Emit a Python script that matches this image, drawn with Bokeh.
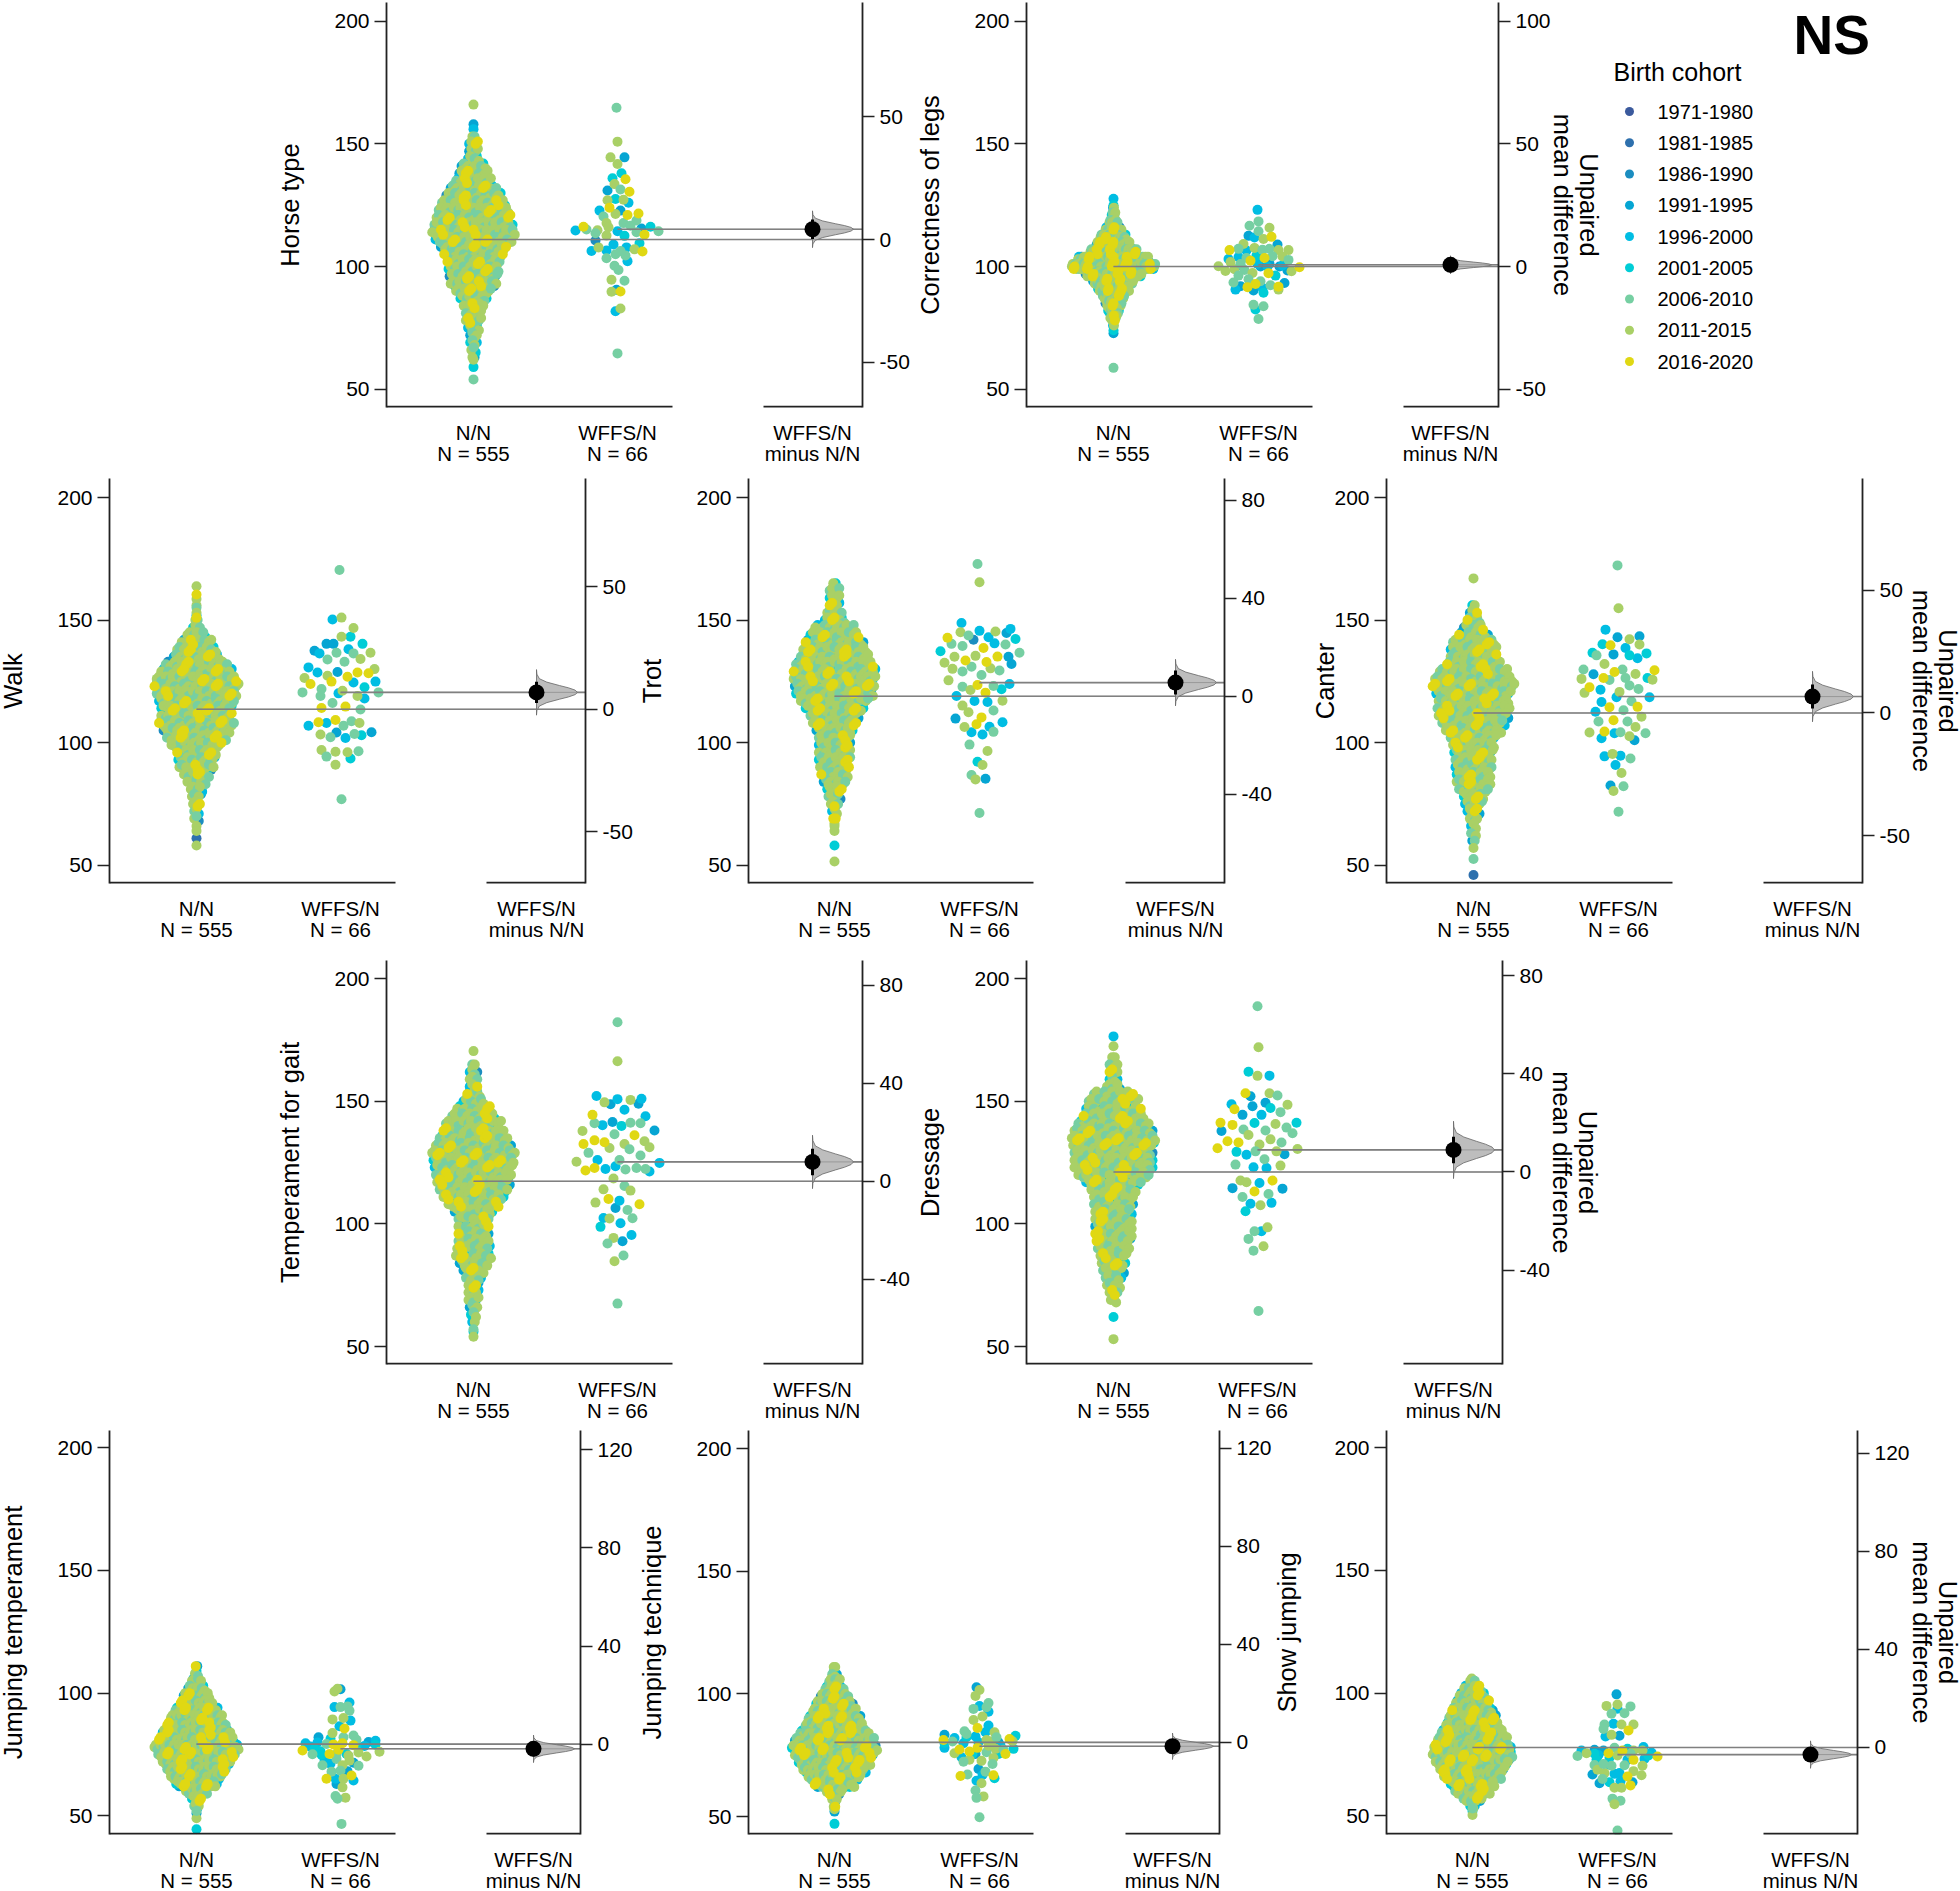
from bokeh.plotting import figure
from bokeh.models import Range1d, LinearAxis, FixedTicker
from bokeh.layouts import row, column
from bokeh.core.properties import value
from bokeh.embed import file_html
from bokeh.resources import INLINE

COHORTS = ["1971-1980","1981-1985","1986-1990","1991-1995","1996-2000","2001-2005","2006-2010","2011-2015","2016-2020"]
COLORS = ["#3b5a9d","#2e70ad","#1b8dc0","#06a5d3","#00bde3","#00cdd6","#76cfa2","#a9d066","#e0d813"]
COHORT_MIX = [7,6,4,7,7,8,8,3,7,5,6,7,4,7,7,6,5,7,3,6,7,7,5,6,7,4,7,6,5,7,3,7,7,8,8,6,7,4,7,6,2,7,7]
STAGGER = [0.0,1.0,-1.0]

TRAITS = ["Horse type","Correctness of legs","Walk","Trot","Canter","Temperament for gait","Dressage","Jumping temperament","Jumping technique","Show jumping"]
NN_MEAN = [111.0,100.0,113.6,118.9,112.1,117.4,121.2,79.2,80.25,77.85]
DIFF = [4.2,0.7,6.9,5.6,6.7,7.9,9.0,-1.9,-1.6,-2.9]
BOOT_HALF = [7.5,3.7,9.3,9.5,10.3,10.9,11.7,5.6,5.4,5.6]
CI_HALF = [4.0,3.0,4.3,4.9,4.9,5.4,5.4,3.0,3.0,3.0]
R_TICKS = [[-50,0,50],[-50,0,50,100],[-50,0,50],[-40,0,40,80],[-50,0,50],[-40,0,40,80],[-40,0,40,80],[0,40,80,120],[0,40,80,120],[0,40,80,120]]
L_TICKS = [50,100,150,200]
VIOLIN_T = [-1,-.8,-.6,-.45,-.3,-.2,-.1,0,.1,.2,.3,.45,.6,.8,1]
VIOLIN_W = [0,.01,.07,.25,.56,.78,.94,1,.94,.78,.56,.25,.07,.01,0]

# N/N: bin centres fall every 3 units going down from NN_TOP; counts per bin
NN_TOP = [153,124,150,165,156,165,168,111,111,105]
NN_COUNT = [
 [2,5,5,6,12,14,17,22,26,30,33,35,37,39,36,31,28,25,24,23,22,17,13,10,8,8,6,4,4,3,2],
 [2,5,10,19,30,39,53,81,95,64,47,36,25,19,13,8,2],
 [2,4,9,14,18,21,28,32,36,38,36,34,32,32,34,30,27,23,18,17,16,12,9,6,5,4,3,3,1],
 [2,5,5,5,7,9,17,21,25,27,29,33,35,35,34,33,29,25,21,19,16,14,14,14,14,13,12,10,7,6,4,3,2],
 [2,4,6,9,13,18,20,20,23,29,33,35,32,30,31,30,27,24,20,18,17,16,16,15,15,13,9,8,6,4,3,3,2,1],
 [2,4,4,4,6,9,14,18,23,25,28,31,34,33,32,31,30,28,25,21,16,13,13,13,13,14,15,12,9,7,5,5,5,4,3,2,1],
 [2,4,4,4,6,16,20,22,24,28,31,33,32,31,31,31,28,22,18,16,16,15,15,15,15,14,13,11,10,9,7,6,4,3],
 [2,3,7,12,18,22,29,35,40,46,51,57,52,46,40,35,28,15,7,4],
 [2,4,8,13,19,25,29,35,39,46,53,57,53,48,42,35,27,11,4,2],
 [4,12,18,23,28,32,36,42,47,52,54,50,44,39,30,24,13,4],
]
NN_STEP = [2.17,0.885,2.27,2.4,2.4,2.5,2.6,1.5,1.52,1.5]
NN_TAIL = [
 [(166,7),(156,4),(158,3),(65,4),(62,7),(59,5),(54,6),(68,3)],
 [(127.6,4),(125,5),(74,5),(72.8,3),(58.7,6)],
 [(163.8,7),(160.4,8),(158.6,7),(156,7),(155,6),(153,7),(152,4),(151,8),(61,1),(58,7),(64,7)],
 [(51.5,7),(58,5),(64,7),(66,7),(67,7),(74,8)],
 [(167,7),(46,1),(52.5,6)],
 [(170.5,7),(56,5),(54,7)],
 [(176.5,4),(172.5,7),(62,5),(53,7)],
 [(44.5,5),(49,7),(51,3),(52,6)],
 [(47,5),(52,3),(53,7)],
 [(50.3,7),(52,5),(53,6)],
]

# WFFS/N: (value, swarm offset, cohort)
WF_1 = [(164.7,-1,6),(150.9,0,7),(144.5,-7,7),(144.5,7,3),(141.8,0,7),(138,4,5),(136,-5,5),(135.6,8,8),(133.6,-3,7),(131,-10,3),(131.4,3,6),(130.5,12,8),(127.5,-2,5),(127,-10,7),(127.2,6,7),(126,11,4),(124,-8,8),(122.8,3,3),(122.8,-18,4),(121.4,-2,7),(121,10,8),(121.6,21,8),(120.4,-14,6),(117.7,6,6),(118.8,19,6),(117.7,-11,7),(116.6,13,6),(116.2,33,5),(116.2,-34,8),(116,-9,7),(115.1,-31,6),(114.7,-42,4),(114.8,-20,7),(115.5,24,3),(114.4,41,6),(114.4,0,4),(113.6,-22,6),(114,19,6),(112.6,-11,7),(112.5,7,5),(113,27,8),(110.6,-22,2),(109.5,22,5),(109,-4,4),(107.8,9,4),(107.8,-19,7),(106.3,-26,4),(106.5,-11,4),(106.3,3,6),(107,17,7),(106.1,25,8),(105,-2,6),(104.5,8,6),(103.4,-11,6),(102.2,10,4),(100.3,-3,6),(98.6,1,6),(94.6,-6,7),(94.2,7,6),(90.5,-1,3),(89.7,-6,7),(89.8,3,8),(81.8,-2,4),(82.9,3,7),(64.6,0,6)]
WF_2 = [(123.1,-1,4),(118.4,0,6),(116.6,-9,6),(115.8,11,7),(114.4,0,6),(112.5,-10,3),(111.8,-4,4),(111.2,5,7),(112.1,13,8),(109,19,3),(109.2,-15,7),(107.2,-20,6),(107.6,-4,7),(106.7,-29,8),(106.5,-12,4),(106.8,4,6),(107.2,11,6),(106.7,20,7),(106.7,30,7),(104.5,-2,5),(103.9,-20,4),(104.2,14,6),(104.1,24,7),(103.1,-30,4),(103.5,6,8),(103.5,-12,6),(102.7,30,6),(102.4,-8,8),(101.8,-28,7),(100.4,-18,4),(100.1,-40,7),(100,2,3),(100,21,3),(99.7,41,8),(98.9,-24,7),(98.2,-33,7),(98.6,-14,6),(97.4,-6,7),(97.3,10,8),(98.4,29,3),(98.1,33,7),(96.3,17,5),(96.3,-20,6),(94.8,-10,6),(94,2,6),(93.5,-25,6),(93.3,26,3),(92.9,-3,8),(92,-18,3),(91.6,-11,8),(92.4,12,6),(91.8,20,8),(90.6,-23,4),(90.2,-5,3),(91.3,4,4),(89.3,5,5),(90.6,20,7),(84.4,-5,6),(83.8,5,6),(82.5,-3,5),(78.6,0,6),(101.1,11,3),(101.1,-1,4),(100.4,24,4),(100,9,4),(101,-18,6)]
WF_3 = [(170.4,-1,6),(151,1,7),(150.2,-8,4),(146.8,13,7),(143.2,1,7),(143.2,10,5),(140.3,-14,3),(140.3,-7,3),(140.3,22,5),(138.1,8,4),(137.5,-26,3),(136.4,-21,4),(136.7,-4,6),(136.4,13,6),(136.7,30,7),(133.9,-13,6),(133,4,6),(134.1,20,7),(130.7,-32,4),(130,34,7),(128.6,-23,4),(128.8,-3,3),(128.6,17,8),(128.3,28,8),(127.3,-13,7),(126.9,7,8),(126.4,-36,7),(123.9,-30,8),(124.9,-9,8),(124.5,13,4),(124.9,35,4),(122.6,24,5),(121.9,-19,6),(120.5,-38,6),(120.1,-2,4),(121.2,2,7),(120.5,38,6),(119,-20,6),(119,17,7),(118,24,4),(116.2,-8,6),(114.1,-19,8),(114.7,5,8),(113.5,20,6),(109.2,-5,8),(108.3,-22,8),(108,-14,4),(108.7,11,6),(108,19,7),(106.9,-32,4),(106.9,3,6),(104.1,-4,3),(104.2,31,3),(103.3,-20,7),(103.5,14,6),(103,21,5),(102.2,-10,6),(101.9,5,4),(97,-19,7),(96.3,-5,7),(96.1,7,7),(96.5,18,6),(94.3,-14,6),(93.5,10,5),(91,-5,7),(76.9,1,6)]
WF_4 = [(172.9,-2,6),(165.4,0,7),(148.8,-18,4),(145.6,0,4),(145.3,16,7),(146.4,31,4),(144.7,27,3),(145,-19,7),(143.7,-11,6),(142.8,-32,8),(143,9,4),(142.3,36,5),(142,-6,2),(140.5,15,4),(140.3,-28,6),(139.4,-17,6),(140,26,6),(138.6,4,8),(137.3,-39,5),(136.7,40,6),(135.4,-4,7),(135,-25,7),(135.1,18,8),(135,29,3),(133.5,-14,8),(132.9,7,8),(132.6,-35,7),(132.1,32,3),(131,-8,6),(130.1,-27,7),(130.3,11,7),(129.4,20,6),(129,-17,6),(127.6,2,6),(125.4,-31,7),(123.9,30,4),(123.5,-2,8),(123.1,14,6),(122.8,-17,6),(121.5,-9,7),(121.8,22,5),(120.4,6,8),(119,-23,4),(117,-5,4),(116.6,8,4),(117.1,23,7),(115.1,-17,7),(113.1,14,6),(112.4,-11,7),(110.3,2,8),(109.8,-24,3),(108.3,23,4),(107.5,-3,8),(106.5,10,4),(106.4,-15,7),(104.2,-8,4),(103.3,3,4),(104.4,14,6),(99.2,-10,6),(96.6,8,7),(92.2,-2,5),(90.9,3,7),(86.8,-8,6),(85,-4,7),(85.3,6,3),(71.3,0,6)]
WF_5 = [(172.3,-1,6),(154.8,0,7),(146.1,-13,4),(143.4,21,3),(143,-1,3),(142.2,11,7),(140.1,-16,5),(139.7,-8,8),(140,21,7),(138.6,7,4),(136.7,-26,5),(136,-5,3),(135.6,-22,6),(136.4,28,5),(135.6,11,5),(134.4,19,4),(132.1,-14,7),(129.8,-35,6),(129.8,4,6),(129.5,36,8),(128.8,-4,8),(127.9,-25,3),(128,17,7),(126,-37,7),(126.4,-15,8),(126.4,7,6),(126.4,29,5),(125.7,34,7),(125.6,-9,6),(123.3,11,6),(122.6,-29,8),(121.6,-18,4),(121.9,20,6),(120.7,1,7),(120.3,-34,7),(118.5,-2,4),(118.5,31,4),(116.9,13,6),(116.6,-17,4),(114.4,-9,8),(114.6,19,8),(112.6,-23,4),(113.2,5,6),(110.6,23,7),(109.1,-5,8),(108.6,-20,6),(108.6,9,6),(106.4,17,7),(104.1,-29,7),(104.5,-14,8),(103.8,-4,4),(104.2,2,6),(103.8,27,6),(102.6,11,7),(101.8,-17,4),(101,16,3),(95.4,-6,7),(94.4,-14,4),(94.7,2,4),(93.5,12,6),(90.9,-3,4),(87.6,3,7),(82.5,-8,3),(82.2,5,6),(80.3,-5,7),(71.8,0,6)]
WF_6 = [(182.3,0,6),(166.4,0,7),(152.2,-21,4),(150.9,0,4),(150.6,13,7),(151.1,24,4),(149.6,-13,7),(148.8,-7,3),(149,21,3),(146.6,7,4),(144.5,-25,8),(143.9,28,4),(141.6,-5,3),(141.1,-23,6),(140.3,-15,4),(140,4,5),(141.3,13,6),(141.1,23,6),(138.1,37,3),(137.9,-35,7),(136.6,-3,6),(136.2,17,8),(134.1,-23,8),(133.3,-13,8),(132.6,-34,8),(132.6,7,7),(133.7,27,7),(131.3,32,7),(131,-8,7),(130.5,12,6),(129,-29,6),(127.9,23,6),(126.1,-20,4),(126.1,2,6),(125.4,-41,7),(124.9,42,4),(123.5,-2,4),(122.4,-12,4),(122.8,-23,8),(122.8,19,6),(121.8,-32,8),(122.2,8,6),(122.4,28,6),(121.4,32,4),(118.5,-4,7),(115.5,7,6),(114.1,-14,7),(113.6,13,7),(110.2,-9,8),(109.5,2,4),(108.7,-22,7),(108,22,8),(106.5,-2,3),(105.7,10,6),(102.4,-14,4),(102.2,-8,7),(102.3,15,6),(100.3,3,4),(98.8,-17,5),(95.5,14,4),(94.3,-4,7),(92.9,5,3),(92,-10,6),(87.1,6,6),(84.8,-3,7),(67.5,0,6)]
WF_7 = [(188.8,0,6),(172.1,1,7),(162.1,-9,5),(160.5,12,4),(160.4,0,7),(153.3,-12,8),(153.3,12,7),(152.4,20,6),(152.1,-7,3),(149.4,8,3),(148.8,-26,4),(148.6,30,7),(148,-5,3),(147.3,13,5),(146.8,-23,8),(145.6,23,6),(144.5,-15,3),(144.5,4,4),(141.2,-3,5),(141.3,-37,8),(141.3,39,5),(140.4,-25,8),(140.8,18,7),(139.3,29,6),(138.5,-14,6),(137.9,-36,3),(138.1,8,6),(137,35,6),(136.3,-9,7),(134.5,13,7),(133.7,-30,8),(133.2,-19,8),(133.2,24,6),(132.4,2,7),(130.9,-40,8),(130.6,40,7),(129.4,-21,5),(129.6,-2,6),(129.6,19,7),(128.4,27,3),(128.2,-11,4),(126.4,7,6),(124.2,-22,6),(123.8,23,7),(123.1,-4,4),(122.8,9,4),(117.7,-17,7),(117,-11,7),(116.7,2,4),(117.7,15,8),(114.6,-25,3),(114.4,25,3),(113.2,-3,8),(112.2,11,6),(111,-15,6),(108.2,-7,4),(108.6,14,4),(107.6,3,7),(105.2,-12,5),(98.6,10,7),(97,-3,6),(97,4,4),(93.9,-9,6),(90.9,6,7),(89.1,-4,6),(64.5,1,6)]
WF_8 = [(46.7,1,6),(101.6,0,3),(101.8,-3,7),(100.7,-6,7),(96.2,9,4),(94.3,-6,4),(94.3,0,6),(94.6,7,6),(92.8,9,6),(88.8,10,4),(89.9,3,7),(89.3,-8,7),(86.5,-1,4),(85.6,4,8),(83.7,-8,7),(82,-22,3),(82.7,13,6),(82,3,6),(81.4,-10,5),(81,16,6),(80.6,35,4),(80.1,28,3),(79.9,-23,4),(79.6,-35,4),(79.3,-14,6),(79.1,-7,8),(79.6,2,8),(78.8,13,8),(78.2,-30,4),(79,35,5),(78.5,24,4),(76.6,-38,8),(76.1,39,7),(76.3,-20,5),(75.1,-28,6),(75.2,-11,8),(76.9,-2,8),(75.8,18,7),(74.6,8,7),(74.2,26,7),(74.9,-19,5),(72.8,-16,4),(73.2,-4,6),(72.5,9,7),(71.6,13,3),(71.2,-10,4),(70.6,-18,6),(70.4,18,6),(70.6,2,7),(68.2,7,3),(68,-9,6),(68.4,0,6),(65.1,-14,8),(65.1,-5,4),(64.4,13,4),(66.4,11,8),(65.1,3,7),(63,-4,3),(61.6,2,7),(58.1,-5,6),(57.4,5,7),(57,-3,6),(75.2,6,5),(75.2,-4,6),(78.6,16,5),(77.2,-26,5)]
WF_9 = [(102.7,-3,3),(101.6,0,7),(99.2,-4,7),(96.3,9,6),(95.1,0,4),(93.9,-6,6),(94.6,7,6),(92.7,9,4),(90.8,3,7),(89.4,-6,7),(87.1,9,4),(86.1,-2,8),(84.4,6,4),(84.8,-15,6),(84.4,15,7),(83.7,-13,6),(82.6,-4,4),(83.3,-35,3),(82.9,36,5),(82,-25,4),(81.2,-36,8),(81.6,30,8),(80.6,-27,6),(81.2,7,7),(80.7,12,7),(80.3,19,3),(79.9,-16,4),(80.7,33,7),(78.9,21,4),(78,-35,4),(78,-2,8),(77.6,34,5),(77.3,-20,8),(77.6,16,7),(77.2,24,6),(75.8,-25,7),(76.5,-10,8),(75.5,26,8),(75.5,-4,3),(76.2,7,6),(74.2,-18,4),(73.9,14,7),(73.2,-10,7),(72.7,2,7),(72.3,-16,6),(71.4,13,6),(69.4,-1,3),(68.3,6,6),(67.1,-12,6),(66.5,-19,8),(66.8,14,8),(66.9,3,4),(65.6,15,5),(64.6,-3,4),(63.6,2,7),(60.6,-4,6),(58.2,4,7),(57.6,-3,6),(49.7,0,6),(82.3,-13,5),(80.3,-1,4),(82.3,17,6),(80,-35,5),(75.5,-7,5),(78.9,9,7),(75.5,19,5)]
WF_10 = [(44,0,6),(99.5,-1,3),(94.8,-11,7),(95.4,0,7),(94.6,13,6),(93.6,0,4),(91.6,-6,6),(91.8,7,6),(87.5,-4,4),(87.2,-13,6),(87.2,16,7),(87.2,4,7),(85.4,-14,6),(84.8,11,8),(83,-6,7),(82.3,-12,4),(82.6,2,3),(77.7,-3,6),(78,26,4),(76.6,-36,4),(76.9,-23,3),(76.6,-14,3),(76.6,16,7),(76.6,25,7),(76.6,5,8),(75.5,-31,7),(75.5,-9,8),(75.8,34,4),(74.4,-40,6),(74.8,-19,4),(74.6,0,7),(74.2,40,8),(75.3,13,6),(72.8,16,8),(73.2,27,4),(72.8,-21,5),(71.1,-10,4),(70.7,-23,6),(70.4,-6,6),(70.6,7,6),(70.4,25,7),(68.8,-20,7),(68.2,16,7),(67.1,-3,4),(66.8,-25,3),(67.4,2,4),(67.4,-13,7),(66.5,24,7),(66,10,8),(65,-15,6),(63.7,-8,5),(63.3,-18,3),(64.1,3,4),(63.7,15,3),(61.4,-3,7),(61.4,4,7),(62.4,13,8),(57,-5,6),(56.1,3,6),(54.7,-3,7),(77.3,10,5),(75.3,-23,5),(74.6,31,5),(73.7,-8,5),(72.8,10,4),(71.1,-14,6)]
WF = [WF_1,WF_2,WF_3,WF_4,WF_5,WF_6,WF_7,WF_8,WF_9,WF_10]

FONT = "Liberation Sans"
INK = "#222222"
ORIGIN = -8

# layout: (fy0,fy1, left,right,top,bottom, y200,y50, nn,wf,dp, seg1,seg2, left standoff, right standoff or None)
L = [
 (ORIGIN,470, 386,862,2,407, 20.7,388.7, 473,617,812, 672,763, 27,None),
 (ORIGIN,470, 1026,1498,2,407, 20.7,388.7, 1113,1258,1450, 1312,1403, 27,-5),
 (470,950, 109,585,478,883, 497,864.7, 196,340,536, 395,486, 27,None),
 (470,950, 748,1224,478,883, 497,864.7, 834,979,1175, 1033,1125, 27,None),
 (470,950, 1386,1862,478,883, 497,864.7, 1473,1618,1812, 1672,1763, -8,-5),
 (950,1426, 386,862,960,1364, 978.3,1346, 473,617,812, 672,763, 27,None),
 (950,1426, 1026,1502,960,1364, 978.3,1346, 1113,1257,1453, 1312,1403, 27,-5),
 (1426,1895, 109,580,1430,1834, 1447.3,1815.3, 196,340,533, 395,486, 27,None),
 (1426,1895, 748,1219,1430,1834, 1448.3,1816, 834,979,1172, 1033,1125, 27,None),
 (1426,1895, 1386,1857,1430,1834, 1447.3,1815.3, 1472,1617,1810, 1672,1763, 30,-5),
]
LEFT_BORDER = 125
RIGHT_BORDER = 60
RIGHT_BORDER_LABEL = 112

def style_y(ax):
    ax.axis_line_color = INK; ax.axis_line_width = 1.8
    ax.major_tick_line_color = INK; ax.major_tick_line_width = 1.6
    ax.major_tick_out = 12; ax.major_tick_in = 0
    ax.minor_tick_line_color = None
    ax.major_label_text_font = FONT; ax.major_label_text_font_size = "21px"
    ax.major_label_text_color = "black"; ax.major_label_standoff = 5
    ax.axis_label_text_font = FONT; ax.axis_label_text_font_size = "25.5px"
    ax.axis_label_text_font_style = "normal"; ax.axis_label_text_color = "black"
    ax.axis_label_text_line_height = 0.95

def panel(i):
    fy0,fy1,left,right,top,bottom,y200,y50,nn,wf,dp,seg1,seg2,lst,rst = L[i]
    k = (y50-y200)/150
    y0 = 50-(bottom-y50)/k; y1 = 200+(y200-top)/k
    pw, ph = wf-nn, dp-nn
    rb = RIGHT_BORDER if rst is None else RIGHT_BORDER_LABEL
    p = figure(width=LEFT_BORDER+right-left+rb, height=fy1-fy0, output_backend="svg", toolbar_location=None,
               x_range=Range1d(left-nn, right-nn), y_range=Range1d(y0,y1),
               min_border_left=LEFT_BORDER, min_border_right=rb,
               min_border_top=top-fy0, min_border_bottom=fy1-bottom,
               outline_line_color=None, background_fill_color=None, border_fill_color=None)
    p.grid.visible = False

    ya = p.yaxis[0]; ya.ticker = FixedTicker(ticks=L_TICKS); style_y(ya)
    ya.axis_label = TRAITS[i]; ya.axis_label_standoff = lst

    m = NN_MEAN[i]
    p.extra_y_ranges = {"d": Range1d(y0-m, y1-m)}
    ra = LinearAxis(y_range_name="d", ticker=FixedTicker(ticks=R_TICKS[i]))
    ra.major_label_overrides = {t: str(t) for t in R_TICKS[i]}
    style_y(ra)
    if rst is not None:
        ra.axis_label = "Unpaired\nmean difference"; ra.axis_label_standoff = rst
    p.add_layout(ra, "right")

    xa = p.xaxis[0]
    xa.ticker = FixedTicker(ticks=[0,pw,ph])
    xa.major_label_overrides = {0:"N/N\nN = 555", pw:"WFFS/N\nN = 66", ph:"WFFS/N\nminus N/N"}
    xa.axis_line_color = None; xa.major_tick_line_color = None; xa.minor_tick_line_color = None
    xa.major_tick_out = 0; xa.major_tick_in = 0
    xa.major_label_text_font = FONT; xa.major_label_text_font_size = "20.5px"
    xa.major_label_text_color = "black"; xa.major_label_standoff = 13
    xa.major_label_text_line_height = 0.92

    xs,ys,cs = [],[],[]
    g = i*7
    for b,n in enumerate(NN_COUNT[i]):
        v = NN_TOP[i]-3*b
        for j in range(n):
            xs.append((j-(n-1)/2)*NN_STEP[i])
            ys.append(v+(STAGGER[j%3] if n>2 else 0))
            cs.append(COHORT_MIX[g%len(COHORT_MIX)]); g+=1
    for v,c in NN_TAIL[i]:
        xs.append(0); ys.append(v); cs.append(c)
    for v,o,c in WF[i]:
        xs.append(pw+o); ys.append(v); cs.append(c)
    # older cohorts lie underneath, the youngest on top; the two green cohorts interleave
    order = sorted(range(len(xs)), key=lambda a: min(cs[a],6) if cs[a]<8 else 8)
    p.scatter([xs[a] for a in order],[ys[a] for a in order],size=10,
              color=[COLORS[cs[a]] for a in order],line_color=None,marker="circle")

    p.segment([left-nn,seg2-nn],[y0,y0],[seg1-nn,right-nn],[y0,y0],line_color=INK,line_width=3.6)

    d = DIFF[i]
    p.segment([0,pw],[m,m+d],[right-nn,right-nn],[m,m+d],line_color="#808080",line_width=1.6)

    vx = [ph+w*41 for w in VIOLIN_W]
    vy = [m+d+t*BOOT_HALF[i] for t in VIOLIN_T]
    p.patch(vx,vy,fill_color="#bdbdbd",line_color="#666666",line_width=0.8)
    p.segment([0,pw],[m,m+d],[right-nn,right-nn],[m,m+d],line_color="#808080",line_width=1.0,line_alpha=0.6)
    p.segment([ph],[m+d-CI_HALF[i]],[ph],[m+d+CI_HALF[i]],line_color="black",line_width=3)
    p.scatter([ph],[m+d],size=16,color="black",line_color=None,marker="circle")
    return p

LEGEND_X0 = 1610
def legend():
    rows = list(range(len(COHORTS)))
    p = figure(width=350,height=478,output_backend="svg",toolbar_location=None,
               x_range=Range1d(0,350),y_range=Range1d(9.472,-3.488),
               min_border_left=0,min_border_right=0,min_border_top=10,min_border_bottom=63,
               outline_line_color=None,background_fill_color=None,border_fill_color=None)
    p.axis.visible=False; p.grid.visible=False
    p.scatter([19]*9,rows,size=9,color=COLORS,line_color=None,marker="circle")
    p.text([47]*9,rows,text=COHORTS,text_font=value(FONT),text_font_size=value("20px"),
           text_baseline="middle",text_color="black")
    p.text([3],[-1.26],text=["Birth cohort"],text_font=value(FONT),text_font_size=value("25px"),
           text_baseline="middle",text_color="black")
    p.text([183],[-2.45],text=["NS"],text_font=value(FONT),text_font_size=value("55px"),
           text_font_style=value("bold"),text_baseline="middle",text_color="black")
    return p

def make_row(ids, extra=None):
    figs=[]; pos=ORIGIN
    for i in ids:
        f=panel(i)
        x0=L[i][2]-LEFT_BORDER
        f.margin=(0,0,0,x0-pos)
        pos=x0+f.width
        figs.append(f)
    if extra is not None:
        extra.margin=(0,0,0,LEGEND_X0-pos)
        figs.append(extra)
    return row(*figs,spacing=0)

root = column(make_row([0,1],legend()),make_row([2,3,4]),make_row([5,6]),make_row([7,8,9]),
              spacing=0,margin=(-8,0,0,-8))
open("out.html","w").write(file_html(root,INLINE))
